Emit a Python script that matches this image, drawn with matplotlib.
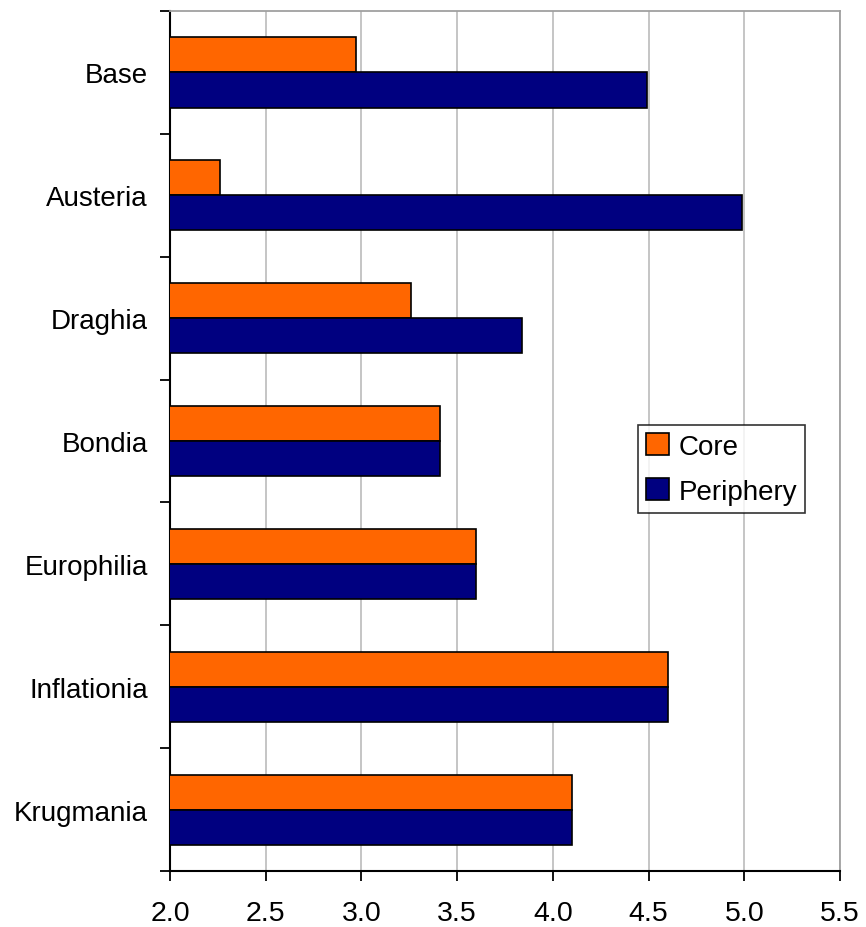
import numpy as np
import matplotlib.pyplot as plt
from matplotlib.ticker import FixedLocator

plt.rcParams['font.family'] = ['Liberation Sans', 'DejaVu Sans']

scenarios = ["Base", "Austeria", "Draghia", "Bondia", "Europhilia", "Inflationia", "Krugmania"]
core = [2.97, 2.26, 3.26, 3.41, 3.60, 4.60, 4.10]
periphery = [4.49, 4.99, 3.84, 3.41, 3.60, 4.60, 4.10]
xticks = [2.0, 2.5, 3.0, 3.5, 4.0, 4.5, 5.0, 5.5]

fig = plt.figure(figsize=(8.66, 9.28), dpi=100)
ax = fig.add_axes([0.1963, 0.0603, 0.7737, 0.9267])

y = np.arange(len(scenarios))
h = 0.285
ax.barh(y - h / 2, core, height=h, color="#FF6600", edgecolor="black", linewidth=1.2, label="Core", zorder=3)
ax.barh(y + h / 2, periphery, height=h, color="#000080", edgecolor="black", linewidth=1.2, label="Periphery", zorder=3)

ax.set_xlim(2.0, 5.5)
ax.set_ylim(len(scenarios) - 0.5, -0.5)
ax.xaxis.set_major_locator(FixedLocator(xticks))
ax.set_xticklabels([f"{v:.1f}" for v in xticks])
ax.grid(axis="x", color="#c0c0c0", linewidth=1.3, zorder=0)

# category separators as ticks, names centred between them
ax.yaxis.set_major_locator(FixedLocator(np.arange(-0.5, len(scenarios), 1.0)))
ax.yaxis.set_minor_locator(FixedLocator(y))
ax.set_yticklabels([""] * (len(scenarios) + 1))
ax.set_yticklabels(scenarios, minor=True)
ax.tick_params(axis="y", which="major", length=7, width=1.3, direction="out")
ax.tick_params(axis="y", which="minor", length=0, pad=16, labelsize=20)
ax.tick_params(axis="x", length=7, width=1.3, direction="out", pad=14, labelsize=20.5)

for side in ("top", "right"):
    ax.spines[side].set_color("#a0a0a0")
    ax.spines[side].set_linewidth(1.3)
for side in ("left", "bottom"):
    ax.spines[side].set_color("black")
    ax.spines[side].set_linewidth(1.5)

leg = ax.legend(loc="upper left", bbox_to_anchor=(0.6985, 0.5186), fontsize=20,
                frameon=True, fancybox=False, edgecolor="black", borderpad=0.3,
                handlelength=0.8, handleheight=0.8, handletextpad=0.35,
                labelspacing=0.67, borderaxespad=0)
leg.get_frame().set_linewidth(1.2)

fig.savefig("out.png", dpi=100)
